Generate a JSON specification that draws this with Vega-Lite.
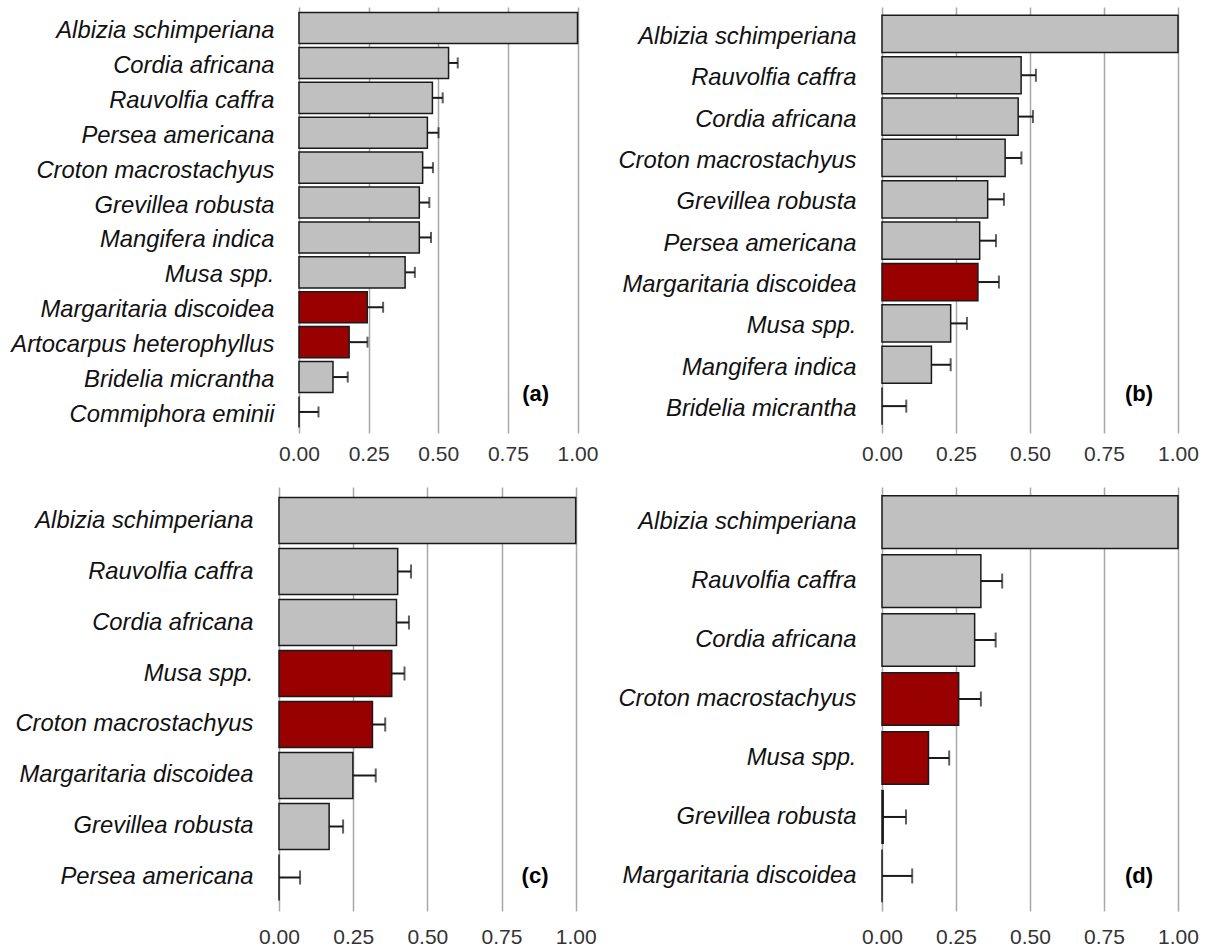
{
  "$schema": "https://vega.github.io/schema/vega-lite/v6.json",
  "background": "white",
  "padding": {"left": 10, "top": 7, "right": 0, "bottom": 0},
  "config": {
    "font": "Liberation Sans",
    "view": {"stroke": null},
    "axisX": {
      "labelFlush": false,
      "labelOverlap": false,
      "ticks": false,
      "domain": false,
      "grid": true,
      "gridColor": "#a8a8a8",
      "gridWidth": 1.5,
      "labelFontSize": 21,
      "labelColor": "#333333",
      "labelPadding": 10,
      "title": null
    },
    "axisY": {
      "ticks": false,
      "domain": false,
      "grid": false,
      "labelFontSize": 23.8,
      "labelFontStyle": "italic",
      "labelColor": "#111111",
      "labelLimit": 500,
      "labelPadding": 25,
      "title": null
    }
  },
  "datasets": {
    "a": [
      {"species": "Albizia schimperiana", "value": 1.0, "hi": null, "status": "other"},
      {"species": "Cordia africana", "value": 0.537, "hi": 0.570, "status": "other"},
      {"species": "Rauvolfia caffra", "value": 0.479, "hi": 0.516, "status": "other"},
      {"species": "Persea americana", "value": 0.461, "hi": 0.501, "status": "other"},
      {"species": "Croton macrostachyus", "value": 0.444, "hi": 0.481, "status": "other"},
      {"species": "Grevillea robusta", "value": 0.432, "hi": 0.468, "status": "other"},
      {"species": "Mangifera indica", "value": 0.432, "hi": 0.474, "status": "other"},
      {"species": "Musa spp.", "value": 0.381, "hi": 0.416, "status": "other"},
      {"species": "Margaritaria discoidea", "value": 0.245, "hi": 0.302, "status": "highlight"},
      {"species": "Artocarpus heterophyllus", "value": 0.180, "hi": 0.246, "status": "highlight"},
      {"species": "Bridelia micrantha", "value": 0.122, "hi": 0.175, "status": "other"},
      {"species": "Commiphora eminii", "value": 0.0, "hi": 0.070, "status": "other"}
    ],
    "b": [
      {"species": "Albizia schimperiana", "value": 1.0, "hi": null, "status": "other"},
      {"species": "Rauvolfia caffra", "value": 0.470, "hi": 0.520, "status": "other"},
      {"species": "Cordia africana", "value": 0.460, "hi": 0.510, "status": "other"},
      {"species": "Croton macrostachyus", "value": 0.416, "hi": 0.471, "status": "other"},
      {"species": "Grevillea robusta", "value": 0.357, "hi": 0.412, "status": "other"},
      {"species": "Persea americana", "value": 0.330, "hi": 0.385, "status": "other"},
      {"species": "Margaritaria discoidea", "value": 0.324, "hi": 0.395, "status": "highlight"},
      {"species": "Musa spp.", "value": 0.232, "hi": 0.287, "status": "other"},
      {"species": "Mangifera indica", "value": 0.167, "hi": 0.232, "status": "other"},
      {"species": "Bridelia micrantha", "value": 0.0, "hi": 0.082, "status": "other"}
    ],
    "c": [
      {"species": "Albizia schimperiana", "value": 1.0, "hi": null, "status": "other"},
      {"species": "Rauvolfia caffra", "value": 0.400, "hi": 0.445, "status": "other"},
      {"species": "Cordia africana", "value": 0.396, "hi": 0.438, "status": "other"},
      {"species": "Musa spp.", "value": 0.380, "hi": 0.423, "status": "highlight"},
      {"species": "Croton macrostachyus", "value": 0.315, "hi": 0.358, "status": "highlight"},
      {"species": "Margaritaria discoidea", "value": 0.249, "hi": 0.326, "status": "other"},
      {"species": "Grevillea robusta", "value": 0.169, "hi": 0.216, "status": "other"},
      {"species": "Persea americana", "value": 0.0, "hi": 0.071, "status": "other"}
    ],
    "d": [
      {"species": "Albizia schimperiana", "value": 1.0, "hi": null, "status": "other"},
      {"species": "Rauvolfia caffra", "value": 0.334, "hi": 0.406, "status": "other"},
      {"species": "Cordia africana", "value": 0.313, "hi": 0.384, "status": "other"},
      {"species": "Croton macrostachyus", "value": 0.259, "hi": 0.334, "status": "highlight"},
      {"species": "Musa spp.", "value": 0.157, "hi": 0.227, "status": "highlight"},
      {"species": "Grevillea robusta", "value": 0.004, "hi": 0.081, "status": "other"},
      {"species": "Margaritaria discoidea", "value": 0.0, "hi": 0.102, "status": "other"}
    ],
    "labels_a": [{"label": "(a)"}],
    "labels_b": [{"label": "(b)"}],
    "labels_c": [{"label": "(c)"}],
    "labels_d": [{"label": "(d)"}]
  },
  "vconcat": [
    {
      "spacing": 19,
      "hconcat": [
        {
          "width": 298.5,
          "height": 426,
          "encoding": {
            "y": {"field": "species", "type": "nominal",
              "scale": {"domain": ["Albizia schimperiana", "Cordia africana", "Rauvolfia caffra", "Persea americana", "Croton macrostachyus", "Grevillea robusta", "Mangifera indica", "Musa spp.", "Margaritaria discoidea", "Artocarpus heterophyllus", "Bridelia micrantha", "Commiphora eminii"], "paddingInner": 0.11, "paddingOuter": 0.158},
              "axis": {"labelPadding": 5, "labelOffset": 3}}
          },
          "layer": [
            {
              "data": {"name": "a"},
              "mark": {"type": "bar", "stroke": "#1a1a1a", "strokeWidth": 1.5},
              "encoding": {
                "x": {"field": "value", "type": "quantitative", "scale": {"domain": [-0.0718, 1], "nice": false, "zero": false},
                  "axis": {"values": [0, 0.25, 0.5, 0.75, 1], "format": ".2f"}},
                "color": {"field": "status", "type": "nominal", "scale": {"domain": ["other", "highlight"], "range": ["#c0c0c0", "#990000"]}, "legend": null}
              }
            },
            {
              "data": {"name": "a"},
              "transform": [{"filter": "datum.hi != null"}],
              "mark": {"type": "rule", "strokeWidth": 2, "color": "#1a1a1a"},
              "encoding": {"x": {"field": "value", "type": "quantitative"}, "x2": {"field": "hi"}}
            },
            {
              "data": {"name": "a"},
              "transform": [{"filter": "datum.hi != null"}],
              "mark": {"type": "tick", "orient": "vertical", "size": 11, "thickness": 2, "color": "#1a1a1a"},
              "encoding": {"x": {"field": "hi", "type": "quantitative"}}
            },
            {
              "data": {"name": "labels_a"},
              "mark": {"type": "text", "fontSize": 22, "fontWeight": "bold", "color": "#000000", "align": "center", "baseline": "middle", "yOffset": -18},
              "encoding": {"x": {"datum": 0.85}, "y": {"datum": "Commiphora eminii"}, "text": {"field": "label"}}
            }
          ]
        },
        {
          "width": 296,
          "height": 426,
          "encoding": {
            "y": {"field": "species", "type": "nominal",
              "scale": {"domain": ["Albizia schimperiana", "Rauvolfia caffra", "Cordia africana", "Croton macrostachyus", "Grevillea robusta", "Persea americana", "Margaritaria discoidea", "Musa spp.", "Mangifera indica", "Bridelia micrantha"], "paddingInner": 0.1, "paddingOuter": 0.2},
              "axis": {"labelPadding": 26, "labelOffset": 3}}
          },
          "layer": [
            {
              "data": {"name": "b"},
              "mark": {"type": "bar", "stroke": "#1a1a1a", "strokeWidth": 1.5},
              "encoding": {
                "x": {"field": "value", "type": "quantitative", "scale": {"domain": [0, 1], "nice": false},
                  "axis": {"values": [0, 0.25, 0.5, 0.75, 1], "format": ".2f"}},
                "color": {"field": "status", "type": "nominal", "scale": {"domain": ["other", "highlight"], "range": ["#c0c0c0", "#990000"]}, "legend": null}
              }
            },
            {
              "data": {"name": "b"},
              "transform": [{"filter": "datum.hi != null"}],
              "mark": {"type": "rule", "strokeWidth": 2, "color": "#1a1a1a"},
              "encoding": {"x": {"field": "value", "type": "quantitative"}, "x2": {"field": "hi"}}
            },
            {
              "data": {"name": "b"},
              "transform": [{"filter": "datum.hi != null"}],
              "mark": {"type": "tick", "orient": "vertical", "size": 13, "thickness": 2, "color": "#1a1a1a"},
              "encoding": {"x": {"field": "hi", "type": "quantitative"}}
            },
            {
              "data": {"name": "labels_b"},
              "mark": {"type": "text", "fontSize": 22, "fontWeight": "bold", "color": "#000000", "align": "center", "baseline": "middle", "yOffset": -12},
              "encoding": {"x": {"datum": 0.868}, "y": {"datum": "Bridelia micrantha"}, "text": {"field": "label"}}
            }
          ]
        }
      ]
    },
    {
      "spacing": 20,
      "hconcat": [
        {
          "width": 296.7,
          "height": 424,
          "encoding": {
            "y": {"field": "species", "type": "nominal",
              "scale": {"domain": ["Albizia schimperiana", "Rauvolfia caffra", "Cordia africana", "Musa spp.", "Croton macrostachyus", "Margaritaria discoidea", "Grevillea robusta", "Persea americana"], "paddingInner": 0.1, "paddingOuter": 0.207},
              "axis": {"labelPadding": 26}}
          },
          "layer": [
            {
              "data": {"name": "c"},
              "mark": {"type": "bar", "stroke": "#1a1a1a", "strokeWidth": 1.5},
              "encoding": {
                "x": {"field": "value", "type": "quantitative", "scale": {"domain": [0, 1], "nice": false},
                  "axis": {"values": [0, 0.25, 0.5, 0.75, 1], "format": ".2f", "labelPadding": 15}},
                "color": {"field": "status", "type": "nominal", "scale": {"domain": ["other", "highlight"], "range": ["#c0c0c0", "#990000"]}, "legend": null}
              }
            },
            {
              "data": {"name": "c"},
              "transform": [{"filter": "datum.hi != null"}],
              "mark": {"type": "rule", "strokeWidth": 2, "color": "#1a1a1a"},
              "encoding": {"x": {"field": "value", "type": "quantitative"}, "x2": {"field": "hi"}}
            },
            {
              "data": {"name": "c"},
              "transform": [{"filter": "datum.hi != null"}],
              "mark": {"type": "tick", "orient": "vertical", "size": 14, "thickness": 2, "color": "#1a1a1a"},
              "encoding": {"x": {"field": "hi", "type": "quantitative"}}
            },
            {
              "data": {"name": "labels_c"},
              "mark": {"type": "text", "fontSize": 22, "fontWeight": "bold", "color": "#000000", "align": "center", "baseline": "middle", "yOffset": -1},
              "encoding": {"x": {"datum": 0.863}, "y": {"datum": "Persea americana"}, "text": {"field": "label"}}
            }
          ]
        },
        {
          "width": 296,
          "height": 424,
          "encoding": {
            "y": {"field": "species", "type": "nominal",
              "scale": {"domain": ["Albizia schimperiana", "Rauvolfia caffra", "Cordia africana", "Croton macrostachyus", "Musa spp.", "Grevillea robusta", "Margaritaria discoidea"], "paddingInner": 0.107, "paddingOuter": 0.148},
              "axis": {"labelPadding": 26}}
          },
          "layer": [
            {
              "data": {"name": "d"},
              "mark": {"type": "bar", "stroke": "#1a1a1a", "strokeWidth": 1.5},
              "encoding": {
                "x": {"field": "value", "type": "quantitative", "scale": {"domain": [0, 1], "nice": false},
                  "axis": {"values": [0, 0.25, 0.5, 0.75, 1], "format": ".2f", "labelPadding": 15}},
                "color": {"field": "status", "type": "nominal", "scale": {"domain": ["other", "highlight"], "range": ["#c0c0c0", "#990000"]}, "legend": null}
              }
            },
            {
              "data": {"name": "d"},
              "transform": [{"filter": "datum.hi != null"}],
              "mark": {"type": "rule", "strokeWidth": 2, "color": "#1a1a1a"},
              "encoding": {"x": {"field": "value", "type": "quantitative"}, "x2": {"field": "hi"}}
            },
            {
              "data": {"name": "d"},
              "transform": [{"filter": "datum.hi != null"}],
              "mark": {"type": "tick", "orient": "vertical", "size": 15, "thickness": 2, "color": "#1a1a1a"},
              "encoding": {"x": {"field": "hi", "type": "quantitative"}}
            },
            {
              "data": {"name": "labels_d"},
              "mark": {"type": "text", "fontSize": 22, "fontWeight": "bold", "color": "#000000", "align": "center", "baseline": "middle", "yOffset": 0},
              "encoding": {"x": {"datum": 0.868}, "y": {"datum": "Margaritaria discoidea"}, "text": {"field": "label"}}
            }
          ]
        }
      ]
    }
  ],
  "spacing": 23
}
